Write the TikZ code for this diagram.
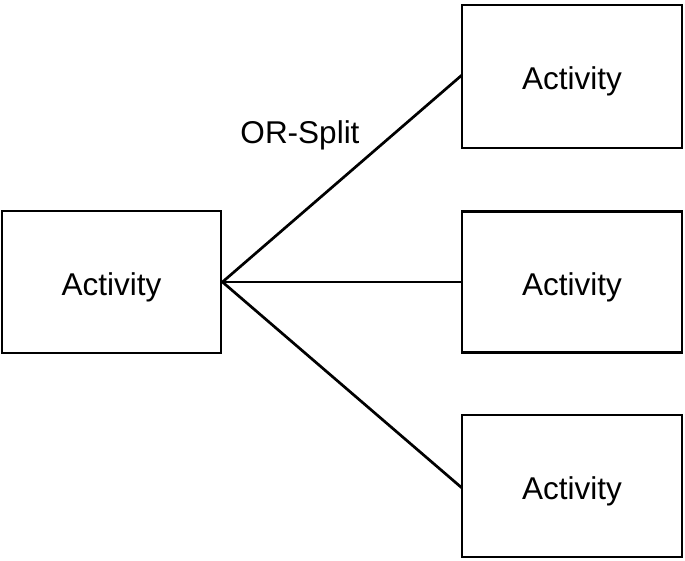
\documentclass[tikz,border=0pt]{standalone}
\usepackage{fontspec}
\setmainfont{Liberation Sans}
\begin{document}
\begin{tikzpicture}[x=1pt,y=-1pt,
  actbox/.style={draw, line width=2.9pt, inner sep=0pt, text height=26pt, text depth=0pt, font=\fontsize{31.5}{36}\selectfont},
  conn/.style={line width=2.7pt}]
\useasboundingbox (0,0) rectangle (685,561);
\node[actbox, minimum width=219pt, minimum height=142pt] (a) at (111.5,282) {Activity};
\node[actbox, minimum width=220pt, minimum height=143pt] (b1) at (572,76.5) {Activity};
\node[actbox, minimum width=220pt, minimum height=141pt] (b2) at (572,282) {Activity};
\node[actbox, minimum width=220pt, minimum height=142pt] (b3) at (572,486) {Activity};
\coordinate (s) at (a.east);
\coordinate (e1) at (462,75);
\coordinate (e3) at (462,488);
\draw[conn] (s) -- (e1);
\draw[conn] (s) -- (b2.west);
\draw[conn] (s) -- (e3);
\node[font=\fontsize{31.5}{36}\selectfont] (lbl) at (300,135) {OR-Split};
\end{tikzpicture}
\end{document}
